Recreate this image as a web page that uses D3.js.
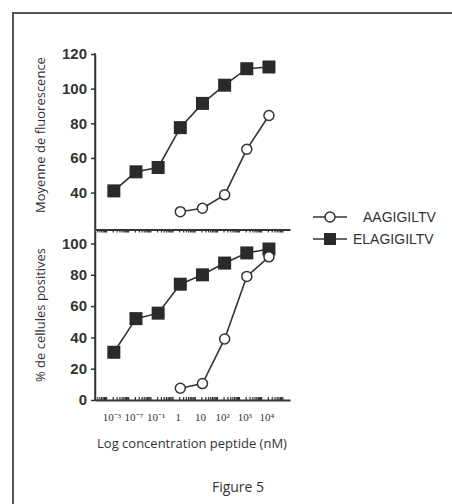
<!DOCTYPE html>
<html>
<head>
<meta charset="utf-8">
<script src="https://cdn.jsdelivr.net/npm/d3@7/dist/d3.min.js"></script>
<style>
  html, body { margin: 0; padding: 0; background: #fff; }
  svg { display: block; }
</style>
</head>
<body>
<svg id="chart" width="452" height="504"></svg>
<script>
// ---- data ----
const concLabels = ["10⁻³", "10⁻⁷", "10⁻¹", "1", "10", "10²", "10³", "10⁴"];
const concIndex = [0, 1, 2, 3, 4, 5, 6, 7];
const aagIndex = [3, 4, 5, 6, 7];

const elagFluo = [41, 52, 54.5, 77.5, 91.5, 102, 111.5, 112.5];
const aagFluo = [29, 31, 38.7, 65, 84.5];

const elagPos = [30.5, 52, 55.5, 74, 80, 87.5, 94, 96.5];
const aagPos = [7.5, 10.5, 39, 79, 91.5];

const fluoTicks = [40, 60, 80, 100, 120];
const posTicks = [0, 20, 40, 60, 80, 100];

const seriesNames = ["AAGIGILTV", "ELAGIGILTV"];

// ---- drawing ----
const svg = d3.select("#chart");
const ink = "#333";

// frame
svg.append("rect").attr("x", 13).attr("y", 13).attr("width", 470).attr("height", 520)
  .attr("fill", "none").attr("stroke", "#555").attr("stroke-width", 2);

const x = d3.scaleLinear().domain([-0.85, 7.95]).range([95, 290]);
const yTop = d3.scaleLinear().domain([19, 120]).range([229, 54]);
const yBot = d3.scaleLinear().domain([0, 108]).range([400, 231]);

// y axes
function yAxis(scale, ticks) {
  const g = svg.append("g").attr("transform", "translate(95,0)")
    .call(d3.axisLeft(scale).tickValues(ticks).tickSize(4).tickPadding(4).tickSizeOuter(0));
  g.select(".domain").attr("stroke", ink).attr("stroke-width", 1.5);
  g.selectAll(".tick line").attr("stroke", ink).attr("stroke-width", 1.5);
  g.selectAll(".tick text").attr("fill", ink).attr("font-family", "Liberation Sans, Arial, sans-serif")
    .attr("font-weight", "bold").attr("font-size", 15);
  return g;
}
yAxis(yTop, fluoTicks);
yAxis(yBot, posTicks);
svg.append("line").attr("x1", 95).attr("x2", 95).attr("y1", 53).attr("y2", 401)
  .attr("stroke", ink).attr("stroke-width", 1.5);

// x axes with minor log-like ticks
const minor = [];
for (let d = -1; d < 8; d++) for (let k = 1; k <= 9; k++) {
  const v = d - 0.35 + Math.log10(k);
  if (v > -0.8 && v < 7.9) minor.push(v);
}
function xAxis(y, dir) {
  const ax = (dir === "down" ? d3.axisBottom(x) : d3.axisTop(x))
    .tickValues(minor).tickSize(3).tickSizeOuter(0).tickFormat("");
  const g = svg.append("g").attr("transform", `translate(0,${y})`).call(ax);
  g.select(".domain").attr("stroke", ink).attr("stroke-width", 2);
  g.selectAll(".tick line").attr("stroke", ink).attr("stroke-width", 1.2);
}
xAxis(229.5, "down");
xAxis(400, "up");

// x tick labels
svg.append("g").selectAll("text").data(concIndex).join("text")
  .attr("x", i => x(i) - 2).attr("y", 421)
  .attr("text-anchor", "middle").attr("fill", ink)
  .attr("font-family", "Liberation Serif, serif").attr("font-size", 11)
  .text(i => concLabels[i]);

// series
const line = d3.line();
function drawSeries(idx, vals, y, type) {
  const pts = idx.map((i, j) => [x(i), y(vals[j])]);
  svg.append("path").attr("d", line(pts)).attr("fill", "none")
    .attr("stroke", ink).attr("stroke-width", 1.6);
  const g = svg.append("g");
  if (type === "square") {
    g.selectAll("rect").data(pts).join("rect")
      .attr("x", p => p[0] - 6.5).attr("y", p => p[1] - 6.5)
      .attr("width", 13).attr("height", 13).attr("fill", "#2a2a2a");
  } else {
    g.selectAll("circle").data(pts).join("circle")
      .attr("cx", p => p[0]).attr("cy", p => p[1]).attr("r", 5)
      .attr("fill", "#fff").attr("stroke", ink).attr("stroke-width", 1.5);
  }
}
drawSeries(concIndex, elagFluo, yTop, "square");
drawSeries(aagIndex, aagFluo, yTop, "circle");
drawSeries(concIndex, elagPos, yBot, "square");
drawSeries(aagIndex, aagPos, yBot, "circle");

// axis titles
const titleFont = "Open Sans, sans-serif";
svg.append("text").attr("transform", "translate(45,135) rotate(-90)")
  .attr("text-anchor", "middle").attr("fill", ink).attr("font-family", titleFont)
  .attr("font-size", 13).text("Moyenne de fluorescence");
svg.append("text").attr("transform", "translate(45,315) rotate(-90)")
  .attr("text-anchor", "middle").attr("fill", ink).attr("font-family", titleFont)
  .attr("font-size", 13).text("% de cellules positives");
svg.append("text").attr("x", 192).attr("y", 448)
  .attr("text-anchor", "middle").attr("fill", ink).attr("font-family", titleFont)
  .attr("font-size", 13).text("Log concentration peptide (nM)");
svg.append("text").attr("x", 238).attr("y", 492)
  .attr("text-anchor", "middle").attr("fill", ink).attr("font-family", titleFont)
  .attr("font-size", 14).text("Figure 5");

// legend
const legend = svg.append("g");
const legY = [217, 239];
const legTextX = [363, 353];
seriesNames.forEach((name, i) => {
  const y = legY[i];
  legend.append("line").attr("x1", 313).attr("x2", 347).attr("y1", y).attr("y2", y)
    .attr("stroke", ink).attr("stroke-width", 1.6);
  if (i === 0) {
    legend.append("circle").attr("cx", 330).attr("cy", y).attr("r", 5)
      .attr("fill", "#fff").attr("stroke", ink).attr("stroke-width", 1.5);
  } else {
    legend.append("rect").attr("x", 324).attr("y", y - 6).attr("width", 12).attr("height", 12)
      .attr("fill", "#2a2a2a");
  }
  legend.append("text").attr("x", legTextX[i]).attr("y", y + 5)
    .attr("fill", ink).attr("font-family", "Liberation Sans, Arial, sans-serif")
    .attr("font-size", 14).text(name);
});
</script>
</body>
</html>
